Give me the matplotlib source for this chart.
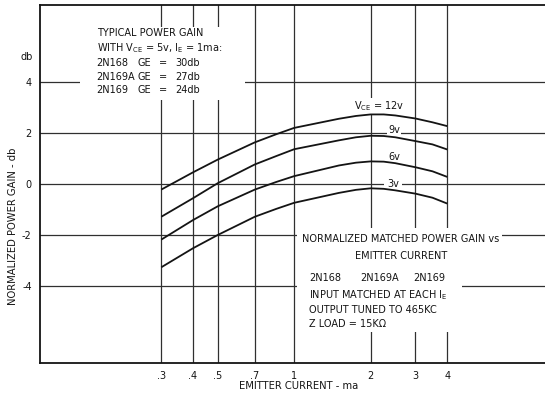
import matplotlib
matplotlib.use('Agg')
import matplotlib.pyplot as plt
from matplotlib.patches import Rectangle

# emitter current (ma) and normalized matched power gain (db) per collector voltage
emitter_ma = [0.3, 0.4, 0.5, 0.7, 0.85, 1.0, 1.5, 1.75, 2.0, 2.25, 2.5, 3.0, 3.5, 4.0]
gain_12v = [-0.22, 0.46, 0.96, 1.64, 1.96, 2.21, 2.57, 2.68, 2.74, 2.74, 2.70, 2.58, 2.43, 2.28]
gain_9v = [-1.29, -0.56, 0.03, 0.77, 1.10, 1.37, 1.72, 1.84, 1.90, 1.89, 1.84, 1.69, 1.56, 1.36]
gain_6v = [-2.19, -1.42, -0.88, -0.22, 0.08, 0.31, 0.73, 0.84, 0.89, 0.88, 0.82, 0.66, 0.50, 0.28]
gain_3v = [-3.28, -2.53, -2.01, -1.29, -0.98, -0.74, -0.35, -0.23, -0.17, -0.19, -0.25, -0.38, -0.54, -0.77]

x_ticks = [0.3, 0.4, 0.5, 0.7, 1, 2, 3, 4]
x_ticklabels = ['.3', '.4', '.5', '.7', '1', '2', '3', '4']
y_ticks = [-4, -2, 0, 2, 4]
y_ticklabels = ['-4', '-2', '0', '2', '4']

W, H = 545, 396
ink = '#141414'
grid_ink = '#303030'

fig = plt.figure(figsize=(W / 100, H / 100), dpi=100)
fig.patch.set_facecolor('white')


def px(x, y):
    # pixel position (from top-left) -> figure fraction
    return x / W, 1 - y / H


ax = fig.add_axes([40 / W, 33 / H, 505 / W, 358 / H])
ax.set_xscale('log')
ax.set_xlim(0.1, 9.7)
ax.set_ylim(-7.05, 7.05)

for s in ['left', 'top', 'bottom']:
    ax.spines[s].set_linewidth(1.3)
    ax.spines[s].set_color(ink)
ax.spines['right'].set_visible(False)

for xv in x_ticks:
    ax.axvline(xv, color=grid_ink, lw=0.9, zorder=1)
for yv in y_ticks:
    ax.axhline(yv, color=grid_ink, lw=0.9, zorder=1)

# blank areas under the two notes
for (x0, y0, x1, y1) in [(80, 27, 245, 100), (297, 228, 462, 332)]:
    fx0, fy1 = px(x0, y0)
    fx1, fy0 = px(x1, y1)
    ax.add_patch(Rectangle((fx0, fy0), fx1 - fx0, fy1 - fy0, transform=fig.transFigure,
                           facecolor='white', edgecolor='none', zorder=1.5))

for g in [gain_12v, gain_9v, gain_6v, gain_3v]:
    ax.plot(emitter_ma, g, color=ink, lw=1.3, zorder=3, solid_capstyle='butt')

ax.set_xticks(x_ticks)
ax.set_xticklabels(x_ticklabels)
ax.xaxis.set_minor_locator(matplotlib.ticker.NullLocator())
ax.set_yticks(y_ticks)
ax.set_yticklabels(y_ticklabels)
ax.tick_params(length=0, labelsize=7, colors=ink)
ax.tick_params(axis='x', pad=6)
ax.tick_params(axis='y', pad=6)

fs = 7
wb = dict(facecolor='white', edgecolor='none', pad=1)

fig.text(*px(27, 57), 'db', fontsize=fs, color=ink, ha='center', va='center')
fig.text(*px(13, 226), 'NORMALIZED POWER GAIN - db', fontsize=7.2, color=ink,
         rotation=90, ha='center', va='center')
fig.text(*px(299, 386), 'EMITTER CURRENT - ma', fontsize=7.2, color=ink,
         ha='center', va='center')

# curve labels sit on the grid but under the curves
curve_labels = [(379, 106, r'V$_{\rm CE}$ = 12v', 1), (394, 130, '9v', 1),
                (394, 156.5, '6v', 1), (393, 183.5, '3v', 2)]
for xx, yy, txt, pad in curve_labels:
    ax.text(*px(xx, yy), txt, transform=fig.transFigure, fontsize=fs, color=ink,
            ha='center', va='center', zorder=2,
            bbox=dict(facecolor='white', edgecolor='none', pad=pad))

# typical gain note
fig.text(*px(150, 33), 'TYPICAL POWER GAIN', fontsize=fs, color=ink, ha='center', va='center')
fig.text(*px(160, 48), r'WITH V$_{\rm CE}$ = 5v, I$_{\rm E}$ = 1ma:', fontsize=fs, color=ink,
         ha='center', va='center')
for yy, name, val in [(63, '2N168', '30db'), (77, '2N169A', '27db'), (90, '2N169', '24db')]:
    fig.text(*px(96, yy), name, fontsize=fs, color=ink, ha='left', va='center')
    fig.text(*px(138, yy), 'GE', fontsize=fs, color=ink, ha='left', va='center')
    fig.text(*px(163, yy), '=', fontsize=fs, color=ink, ha='center', va='center')
    fig.text(*px(175, yy), val, fontsize=fs, color=ink, ha='left', va='center')

# conditions note
fig.text(*px(302, 239), 'NORMALIZED MATCHED POWER GAIN vs', fontsize=fs, color=ink,
         ha='left', va='center', bbox=dict(facecolor='white', edgecolor='none', pad=2))
fig.text(*px(401, 256), 'EMITTER CURRENT', fontsize=fs, color=ink, ha='center', va='center')
for xx, name in [(309, '2N168'), (360, '2N169A'), (413, '2N169')]:
    fig.text(*px(xx, 278), name, fontsize=fs, color=ink, ha='left', va='center')
fig.text(*px(309, 295), r'INPUT MATCHED AT EACH I$_{\rm E}$', fontsize=fs, color=ink,
         ha='left', va='center')
fig.text(*px(309, 310), 'OUTPUT TUNED TO 465KC', fontsize=fs, color=ink, ha='left', va='center')
fig.text(*px(309, 324), 'Z LOAD = 15K\u03a9', fontsize=fs, color=ink, ha='left', va='center')

fig.savefig('out.png', dpi=100)
